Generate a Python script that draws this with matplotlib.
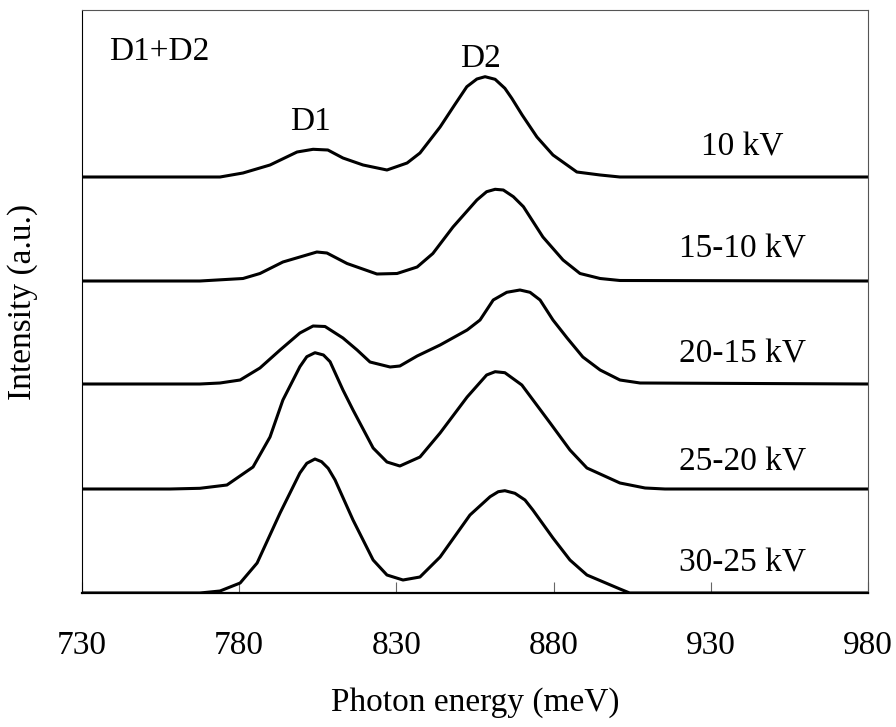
import matplotlib
matplotlib.use('Agg')
import matplotlib.pyplot as plt
import numpy as np

plt.rcParams['font.family'] = ['Liberation Serif', 'DejaVu Serif']

# photon energy (meV) and intensity above each baseline (a.u.)
x_10 = [730, 767.5, 773.9, 781.2, 789.8, 798.4, 803.5, 808.2, 813.0, 819.4, 827.0, 833.4,
        837.5, 843.9, 848.5, 852.4, 855.6, 858.2, 861.4, 864.5, 866.7, 870.0, 874.7, 879.8,
        887.4, 894.8, 901.1, 980]
y_10 = [0, 0, 0, 4, 12, 25, 27.7, 27, 19, 12, 7, 14,
        24, 50, 72, 90.3, 98, 100.3, 97.7, 88.7, 78.7, 62, 40, 22,
        5, 2, 0, 0]

x_15_10 = [730, 767.5, 781.2, 786.6, 793.9, 799.3, 804.7, 807.9, 814.3, 823.8, 830.2, 836.6,
           841.6, 848.0, 855.6, 858.7, 861.4, 864.0, 867.2, 870.4, 876.6, 883.0, 888.4, 894.8,
           901.1, 980]
y_15_10 = [0, 0, 2.5, 7.5, 19, 24, 29, 28, 17.5, 7, 7.5, 14,
           27.5, 54, 81, 89.3, 91.7, 91, 84.3, 74.3, 44, 21, 7.5, 2.5,
           0.5, 0]

x_20_15 = [730, 767.5, 773.9, 780.3, 786.6, 793.0, 799.3, 803.5, 807.3, 813.0, 817.5, 821.6,
           828.0, 831.1, 836.6, 843.9, 852.5, 856.6, 860.8, 865.1, 869.3, 872.5, 875.7, 879.8,
           884.3, 889.3, 894.8, 901.1, 907.5, 980]
y_20_15 = [0, 0, 1, 4, 16, 34, 51, 58, 57.5, 46, 34, 22,
           17, 18, 28, 39, 54, 64, 84, 91.7, 94, 91.7, 84, 64,
           46, 27, 14, 4, 1, 0]

x_25_20 = [730, 758.0, 767.5, 776.1, 784.4, 789.8, 793.9, 799.3, 801.5, 804.1, 806.8, 808.9,
           813.0, 816.2, 822.6, 827.0, 831.1, 837.5, 843.9, 852.5, 858.7, 861.4, 864.5, 869.9,
           878.9, 885.2, 890.6, 901.1, 909.1, 915.4, 980]
y_25_20 = [0, 0, 0.7, 4, 22, 52, 89, 122.3, 132.3, 136.3, 134, 127.3,
           99, 79, 41, 27, 23, 32, 56, 92, 114, 117.3, 116.3, 104,
           66, 39, 21, 6, 1, 0, 0]

x_30_25 = [730, 767.5, 773.9, 780.3, 785.7, 793.0, 799.3, 801.5, 804.1, 806.2, 808.3, 810.5,
           816.2, 822.6, 827.0, 832.1, 837.5, 843.9, 853.4, 859.8, 862.4, 864.5, 867.7, 870.9,
           873.4, 879.8, 885.2, 890.6, 901.1, 904.2, 980]
y_30_25 = [0, 0, 2, 10, 30, 80, 120, 129.7, 134, 131.3, 124.7, 113,
           73, 33, 18, 13, 16, 36, 78, 96.3, 101.3, 102.3, 99.7, 93,
           83, 55, 33, 18, 4, 0, 0]

labels = ['10 kV', '15-10 kV', '20-15 kV', '25-20 kV', '30-25 kV']
xs = [x_10, x_15_10, x_20_15, x_25_20, x_30_25]
ys = [y_10, y_15_10, y_20_15, y_25_20, y_30_25]
offsets = [416, 312, 209, 104, 0]
label_y = [446, 344, 239, 131, 30]

fig = plt.figure(figsize=(8.96, 7.27), dpi=100)
ax = fig.add_axes([82 / 896, 134 / 727, 786 / 896, 583 / 727])

for x, y, off, lab, ly in zip(xs, ys, offsets, labels, label_y):
    ax.plot(x, np.array(y) + off, color='black', lw=2.2,
            solid_joinstyle='round', solid_capstyle='butt')
    ax.text(940, ly, lab, fontsize=24, ha='center', va='center')

ax.text(754.5, 541, 'D1+D2', fontsize=24, ha='center', va='center')
ax.text(802.5, 471, 'D1', fontsize=24, ha='center', va='center')
ax.text(856.9, 534, 'D2', fontsize=24, ha='center', va='center')

ax.set_xlim(730, 980)
ax.set_ylim(0, 583)
ax.set_xticks(np.arange(730, 981, 50))
ax.set_yticks([])
ax.tick_params(axis='x', direction='in', length=8, width=0.8, color='#666666',
               labelsize=24, pad=27)
for side in ['top', 'right', 'left']:
    ax.spines[side].set_linewidth(0.8)
    ax.spines[side].set_color('#555555')
ax.spines['left'].set_color('black')
ax.spines['bottom'].set_linewidth(1.6)

ax.set_xlabel('Photon energy (meV)', fontsize=24, labelpad=19)
ax.set_ylabel('Intensity (a.u.)', fontsize=24)
ax.yaxis.set_label_coords(-0.056, 0.5)

fig.savefig('out.png', dpi=100)
